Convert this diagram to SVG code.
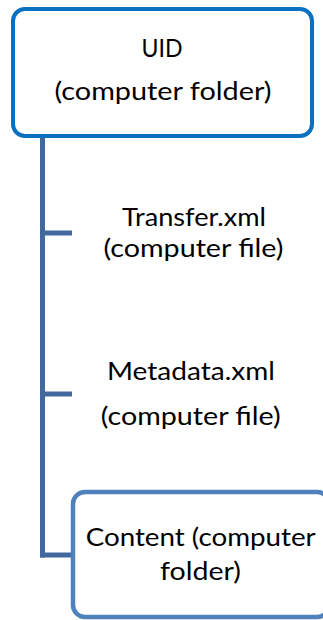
<svg xmlns="http://www.w3.org/2000/svg" width="323" height="620" viewBox="0 0 323 620">
<style>
.t{font-family:Lato,"Open Sans","Liberation Sans",sans-serif;font-size:25px;fill:#000;text-anchor:middle}
.conn{stroke:#41699e;stroke-width:5;fill:none}
</style>
<rect width="323" height="620" fill="#fff"/>
<g id="connectors">
<line class="conn" x1="42.5" y1="137" x2="42.5" y2="557.5"/>
<line class="conn" x1="40" y1="233" x2="72" y2="233"/>
<line class="conn" x1="40" y1="394" x2="72" y2="394"/>
<line class="conn" x1="40" y1="555" x2="74" y2="555"/>
</g>
<g id="uid">
<rect x="13" y="9" width="299" height="127" rx="12" fill="#fff" stroke="#0a70c0" stroke-width="4"/>
<text class="t" x="162" y="57" textLength="41" lengthAdjust="spacingAndGlyphs">UID</text>
<text class="t" x="163" y="100" textLength="217" lengthAdjust="spacingAndGlyphs">(computer folder)</text>
</g>
<g id="transfer">
<text class="t" x="194" y="226" textLength="144" lengthAdjust="spacingAndGlyphs">Transfer.xml</text>
<text class="t" x="193.5" y="257" textLength="180" lengthAdjust="spacingAndGlyphs">(computer file)</text>
</g>
<g id="metadata">
<text class="t" x="191" y="380" textLength="168" lengthAdjust="spacingAndGlyphs">Metadata.xml</text>
<text class="t" x="190.7" y="425" textLength="180" lengthAdjust="spacingAndGlyphs">(computer file)</text>
</g>
<g id="content">
<rect x="73" y="492" width="256" height="125" rx="12" fill="#fff" stroke="#4f81bd" stroke-width="4.5"/>
<text class="t" x="200.7" y="546" textLength="230" lengthAdjust="spacingAndGlyphs">Content (computer</text>
<text class="t" x="200.5" y="580" textLength="81" lengthAdjust="spacingAndGlyphs">folder)</text>
</g>
</svg>
